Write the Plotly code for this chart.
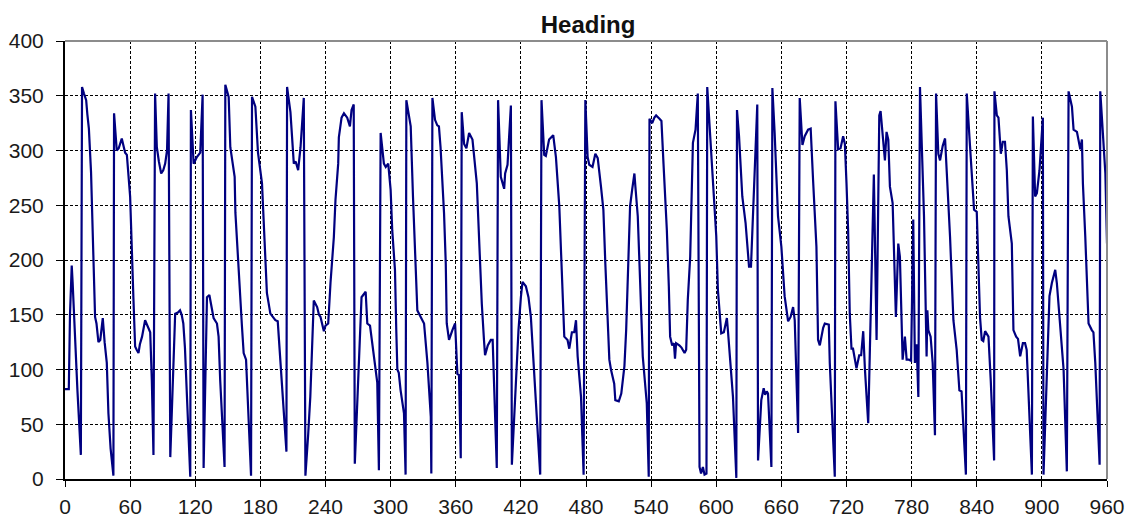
import plotly.graph_objects as go

# time (s) and heading (deg)
t = [0, 3.5, 4.6, 6.2, 7, 9, 11.5, 14.6, 15.7, 17.5, 19.5, 20.6, 22, 24, 25.5, 27.7, 29, 30.8, 32.5, 34.8,
     36.5, 38.5, 40, 42, 44.6, 45.2, 47.7, 49.5, 52.3, 54, 55.4, 57, 60, 63, 64.6, 66, 67.7, 69, 71, 73.8,
     76, 78.5, 80, 81.5, 83, 84.6, 86.5, 88.6, 90.5, 92.3, 94, 95.4, 97, 99, 100, 101.5, 104, 106, 107.5, 109,
     110.5, 112.3, 115.4, 116, 118.5, 121.5, 124.6, 126.8, 127.7, 129.5, 130.8, 133, 136.9, 140, 141.5, 143, 147, 147.7, 150.8, 152.3,
     154, 156.3, 157, 159.4, 161.5, 163, 164.6, 166.8, 171.4, 172.3, 175.4, 177.8, 181.5, 184.6, 186, 189.2, 191.5, 193.8, 196, 204,
     204.6, 207.7, 210.8, 212.5, 214.8, 217, 220, 221.5, 224, 226, 229.2, 232.3, 234, 235.4, 238.5, 240, 242.5, 244.6, 247.7, 249.2,
     251.7, 252.3, 254.8, 257, 260, 262.5, 264, 266, 267, 270.8, 273.2, 277, 278.5, 281, 284.6, 287.7, 289.2, 290.8, 293.8, 295.5,
     297.8, 300, 301.5, 304, 305.2, 306.2, 307.5, 309.2, 312.3, 313.8, 314.5, 316.9, 318.5, 320.6, 323, 324.6, 327.7, 329, 330.8, 333.9,
     337, 337.5, 338.5, 340.9, 343, 344.5, 346, 349.2, 350.8, 351.7, 353.8, 356.9, 359.4, 361.5, 363, 364.6, 365.5, 367.7, 369.8, 372.3,
     375.4, 379.4, 381.5, 384, 386, 387, 389.5, 392.3, 394, 397.8, 399, 401.5, 404.6, 405.5, 407.7, 410.8, 411.7, 415.4, 417.8, 420,
     421.5, 424.6, 427, 429.2, 432.3, 437.8, 439, 441.5, 443, 446, 449.8, 452.3, 455.4, 457, 460, 463, 464.6, 467, 469.2, 470.8,
     472.3, 475.4, 477.8, 479.4, 481.5, 483, 486, 488.6, 490.8, 493.8, 496, 497.8, 500, 501.5, 503, 506, 507, 510.2, 512.5, 515.4,
     517, 518.5, 520.6, 522.5, 524.6, 525.5, 527.7, 529.8, 532.3, 536, 537.8, 538.5, 541, 543, 544.6, 547.7, 549.5, 551.4, 554.5, 556.3,
     557.5, 559.4, 561, 562, 563, 566, 568, 570.8, 572.3, 573.8, 576, 578.5, 580.9, 583, 584.6, 586, 587.7, 589.2, 591, 591.7,
     593.8, 596.9, 600, 601.5, 604.6, 607, 609.8, 610.8, 612.9, 615.4, 618.5, 619.1, 621, 624, 627, 630.2, 632, 633.8, 636.3, 637.8,
     638.5, 641.5, 643.7, 645, 646.5, 647.7, 650.8, 651.7, 653.8, 656.9, 660, 663, 666.2, 668.5, 670.8, 672.3, 675.4, 676.9, 679.4, 681.5,
     684.6, 687, 689.2, 692.3, 693.8, 695.4, 698.5, 700, 703.7, 704.6, 709.2, 709.8, 712.3, 714.5, 716.9, 718.5, 720, 721.5, 723, 724.6,
     726, 727.7, 729.2, 731.7, 733.5, 735.4, 737, 740, 745.2, 747.7, 750.2, 751.4, 753.8, 755.4, 756.9, 758.5, 760, 762.5, 765.5, 767.7,
     769.2, 771.7, 773.8, 775.4, 777.5, 779.5, 781.5, 783, 784.6, 786.2, 787.7, 789.2, 791.4, 793.8, 794.5, 795.4, 797.5, 799.4, 801.5, 802.5,
     804.6, 806.2, 808.6, 810.8, 812.3, 815.4, 818.5, 821.5, 824, 826, 830, 830.8, 833.8, 835.4, 837.5, 840, 841.5, 843, 844.6, 846,
     847.7, 850.8, 852.9, 856, 856.3, 858.5, 860, 862.2, 864, 866, 867.7, 869.2, 872.3, 873.8, 876.3, 878, 880, 882.5, 884.5, 886,
     890.8, 891.7, 893.8, 895.4, 897.8, 900.9, 901.5, 904.6, 907, 909.2, 912.3, 913.8, 916.9, 920, 923, 924.6, 927.7, 929.2, 932.3, 933.8,
     935.4, 936.9, 937.8, 940, 941.5, 943, 946, 947.5, 949.2, 953.2, 953.8, 955.4, 956.9, 958.5, 960]

heading = [82, 82, 150, 195, 180, 130, 80, 22, 358, 352, 346, 333, 320, 280, 225, 148, 142, 125, 127, 147,
           125, 106, 60, 28, 3, 334, 300, 302, 311, 305, 298, 296, 258, 166, 121, 118, 115, 123, 130, 145,
           140, 134, 90, 22, 352, 303, 290, 279, 282, 288, 300, 352, 20, 85, 106, 151, 152, 154, 150, 142,
           120, 81, 2, 337, 288, 294, 298, 351, 10, 100, 166, 168, 147, 142, 130, 90, 11, 360, 349, 303,
           290, 276, 243, 197, 166, 140, 115, 109, 3, 349, 340, 298, 270, 209, 170, 151, 148, 145, 144, 25,
           358, 335, 288, 290, 282, 303, 348, 3, 40, 75, 163, 157, 150, 148, 135, 140, 142, 179, 221, 255,
           288, 312, 330, 334, 330, 322, 337, 342, 14, 106, 166, 171, 142, 140, 112, 88, 8, 316, 288, 285,
           288, 264, 227, 191, 136, 100, 97, 81, 60, 4, 346, 331, 322, 258, 200, 154, 148, 145, 142, 106,
           57, 5, 348, 328, 323, 322, 303, 243, 197, 142, 127, 136, 142, 96, 95, 19, 335, 306, 302, 316,
           310, 270, 212, 160, 127, 113, 122, 127, 127, 10, 346, 276, 265, 279, 287, 341, 13, 96, 136, 166,
           180, 176, 166, 148, 93, 4, 346, 296, 295, 310, 314, 294, 249, 212, 130, 127, 119, 134, 134, 145,
           112, 75, 4, 346, 294, 287, 285, 297, 293, 267, 246, 197, 151, 109, 100, 87, 72, 71, 78, 103,
           136, 179, 249, 264, 279, 267, 240, 182, 112, 69, 2, 329, 325, 330, 332, 329, 327, 288, 227, 176,
           130, 122, 124, 110, 124, 122, 120, 115, 118, 164, 203, 307, 319, 352, 11, 5, 11, 4, 5, 358,
           322, 270, 222, 173, 133, 134, 147, 135, 109, 75, 1, 337, 313, 258, 234, 194, 194, 240, 307, 342,
           17, 72, 83, 77, 80, 78, 11, 357, 316, 240, 212, 167, 144, 148, 157, 145, 42, 348, 305, 313,
           319, 320, 273, 212, 127, 122, 138, 142, 141, 106, 2, 345, 301, 302, 313, 306, 270, 227, 151, 119,
           119, 109, 101, 113, 113, 135, 100, 51, 278, 127, 332, 336, 304, 291, 317, 310, 267, 252, 148, 215,
           203, 109, 130, 109, 109, 108, 237, 106, 123, 75, 358, 310, 240, 112, 154, 136, 130, 106, 40, 352,
           297, 291, 304, 311, 282, 221, 145, 118, 81, 80, 4, 352, 304, 282, 246, 244, 197, 148, 127, 126,
           135, 130, 90, 17, 354, 332, 330, 297, 308, 308, 282, 240, 215, 136, 130, 128, 112, 124, 124, 118,
           4, 331, 258, 261, 282, 330, 4, 106, 167, 179, 191, 179, 142, 100, 7, 354, 340, 319, 317, 308,
           301, 310, 270, 221, 182, 142, 136, 134, 106, 13, 354, 325, 301, 279, 215]

x_ticks = list(range(0, 961, 60))
y_ticks = list(range(0, 401, 50))

fig = go.Figure()
fig.add_trace(go.Scatter(x=t, y=heading, mode="lines",
                         line=dict(color="#000080", width=2.2), hoverinfo="x+y"))

font = dict(family="Liberation Sans, Arial, sans-serif", size=21, color="#1a1a1a")
fig.update_layout(
    width=1131, height=518,
    margin=dict(l=65, r=24, t=41, b=39, autoexpand=False),
    paper_bgcolor="white", plot_bgcolor="white",
    showlegend=False,
    font=font,
    title=dict(text="<b>Heading</b>", x=0.52, xanchor="center", y=1 - 25 / 518, yanchor="middle",
               font=dict(family="Liberation Sans, Arial, sans-serif", size=24, color="#111111")),
    xaxis=dict(range=[0, 960], tickvals=x_ticks, ticktext=[str(v) for v in x_ticks],
               showgrid=True, gridcolor="black", gridwidth=1, griddash="3px,2px",
               showline=True, linecolor="black", linewidth=2, automargin=False,
               ticks="outside", ticklen=6, tickcolor="black", tickwidth=1,
               ticklabelstandoff=2,
               zeroline=False, tickfont=font),
    yaxis=dict(range=[0, 400], tickvals=y_ticks, ticktext=[str(v) for v in y_ticks],
               showgrid=True, gridcolor="black", gridwidth=1, griddash="3px,2px",
               showline=True, linecolor="black", linewidth=2, automargin=False,
               ticks="outside", ticklen=7, tickcolor="black", tickwidth=1,
               ticklabelstandoff=8,
               zeroline=False, tickfont=font),
    shapes=[
        dict(type="line", xref="paper", yref="paper", x0=0, x1=1, y0=1, y1=1,
             line=dict(color="#8c8c8c", width=2)),
        dict(type="line", xref="paper", yref="paper", x0=1, x1=1, y0=0, y1=1,
             line=dict(color="#8c8c8c", width=2)),
    ],
)

fig.write_html("out.html", config={"displayModeBar": False},
               post_script="document.body.style.margin='0';document.body.style.overflow='hidden';")
